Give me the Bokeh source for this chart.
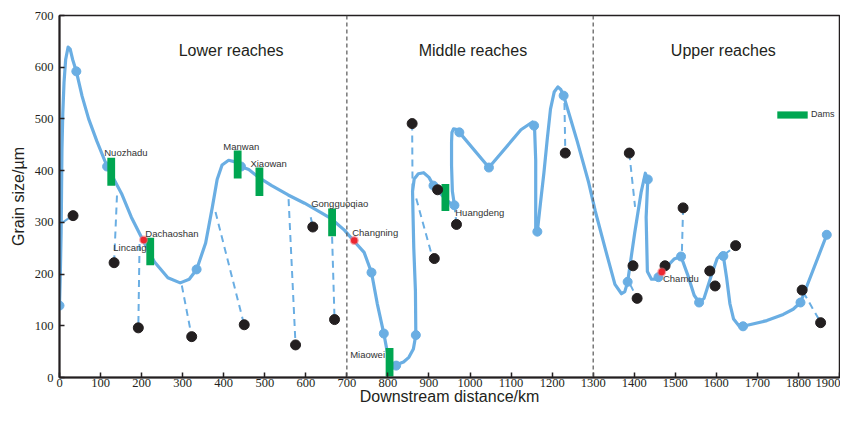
from bokeh.plotting import figure
from bokeh.models import Range1d, Span, Legend, LegendItem, ColumnDataSource, FixedTicker
from bokeh.embed import file_html
from bokeh.resources import INLINE
from bokeh.core.properties import value

# ---------------- data ----------------
x_ticks = list(range(0, 2000, 100))
y_ticks = list(range(0, 800, 100))

# traced grain-size curve (km, um)
curve_x = [0, 2, 4, 5, 6, 8, 11, 15, 21, 26, 32, 41, 55, 71, 91, 116, 151, 175, 203, 231,
           264, 294, 316, 334, 356, 372, 384, 396, 412, 428, 442, 461, 485, 517, 557, 597,
           637, 662, 694, 716, 742, 760, 774, 790, 798, 805, 814, 822, 838, 851, 862, 868,
           867, 863, 861, 860, 864, 874, 887, 900, 911, 927, 940, 955, 962, 957, 955, 955,
           956, 960, 966, 974, 1046, 1124, 1152, 1157, 1160, 1160, 1160, 1161, 1164, 1172,
           1180, 1188, 1196, 1205, 1214, 1221, 1228, 1245, 1261, 1289, 1305, 1329, 1353,
           1369, 1377, 1384, 1401, 1417, 1427, 1433, 1429, 1432, 1442, 1456, 1459, 1467,
           1497, 1514, 1530, 1546, 1558, 1570, 1586, 1602, 1612, 1617, 1625, 1633, 1642,
           1655, 1665, 1723, 1763, 1787, 1805, 1869]
curve_y = [139, 200, 280, 360, 440, 510, 570, 615, 639, 635, 615, 592, 544, 500, 457, 408, 356, 310, 266, 224,
           193, 183, 190, 209, 260, 328, 383, 411, 420, 417, 408, 402, 387, 371, 353, 337,
           319, 307, 285, 265, 242, 203, 143, 85, 51, 30, 21, 25, 30, 39, 55, 82,
           168, 250, 320, 360, 384, 394, 396, 387, 371, 357, 345, 335, 333, 360, 410, 455,
           474, 481, 480, 474, 406, 479, 494, 487, 420, 340, 290, 278, 282, 340,
           396, 460, 519, 552, 562, 557, 545, 500, 457, 377, 322, 250, 180,
           162, 166, 185, 279, 359, 395, 383, 310, 205, 190, 190, 194, 204,
           229, 234, 199, 159, 145, 153, 193, 230, 239, 235, 193, 143, 113,
           100, 99, 110, 122, 132, 145, 276]

# sampled (pre-dam) grain sizes on the curve
blue_x = [0, 41, 116, 334, 442, 760, 790, 820, 868, 911, 962, 974, 1046, 1156, 1164, 1228,
          1384, 1433, 1459, 1514, 1558, 1617, 1665, 1805, 1869]
blue_y = [139, 592, 408, 209, 408, 203, 85, 23, 82, 371, 333, 474, 406, 487, 282, 545,
          185, 383, 194, 234, 145, 235, 99, 145, 276]

# present-day grain sizes
black_x = [33, 133, 192, 322, 450, 575, 617, 670, 859, 913, 921, 967, 1232,
           1388, 1397, 1407, 1475, 1519, 1584, 1597, 1647, 1809, 1854]
black_y = [313, 222, 96, 79, 102, 63, 291, 112, 491, 230, 363, 296, 434,
           434, 216, 153, 216, 328, 206, 177, 255, 169, 106]

# hydrological stations
station_x = [205, 718, 1467]
station_y = [266, 265, 204]

# links between the two samplings
link_x0 = [8, 140, 195, 298, 380, 558, 612, 664, 859, 869, 962, 1230, 1388, 1390, 1519, 1620, 1812]
link_y0 = [300, 352, 258, 178, 320, 345, 310, 272, 491, 346, 333, 531, 434, 180, 328, 238, 165]
link_x1 = [30, 133, 192, 322, 450, 575, 617, 670, 860, 907, 967, 1232, 1402, 1407, 1516, 1645, 1850]
link_y1 = [312, 222, 96, 79, 101, 63, 291, 112, 362, 236, 296, 440, 330, 153, 240, 253, 112]

# dams
dam_names = ["Nuozhadu", "Dachaoshan", "Manwan", "Xiaowan", "Gongguoqiao", "Miaowei", "Huangdeng"]
dam_x = [126, 221, 434, 487, 664, 804, 940]
dam_lo = [371, 217, 385, 351, 273, 2, 322]
dam_hi = [425, 270, 439, 406, 327, 57, 374]

# place labels
label_text = ["Nuozhadu", "Manwan", "Xiaowan", "Dachaoshan", "Lincang", "Gongguoqiao",
              "Changning", "Miaowei", "Huangdeng", "Chamdu"]
label_x = [109, 399, 465, 209, 131, 613, 713, 708, 964, 1470]
label_y = [435, 447, 414, 279, 252, 337, 280, 45, 320, 191]

reach_names = ["Lower reaches", "Middle reaches", "Upper reaches"]
reach_x = [418, 1007, 1617]
reach_y = [632, 632, 632]
reach_bounds = [700, 1300]

# ---------------- figure ----------------
BLUE = "#6aaee3"
DARK = "#231f20"
GREEN = "#00a651"
RED = "#ec2730"

p = figure(width=840, height=407, x_range=Range1d(0, 1900), y_range=Range1d(0, 700),
           output_backend="svg", toolbar_location=None,
           min_border_left=59, min_border_right=1, min_border_top=15, min_border_bottom=20)
p.background_fill_color = "white"
p.border_fill_color = "white"
p.outline_line_color = DARK
p.outline_line_width = 1.5
p.grid.visible = False

p.xaxis.ticker = FixedTicker(ticks=x_ticks)
p.yaxis.ticker = FixedTicker(ticks=y_ticks)
for ax in (p.xaxis[0], p.yaxis[0]):
    ax.axis_line_color = DARK
    ax.axis_line_width = 2
    ax.major_tick_in = 5
    ax.major_tick_out = 0
    ax.major_tick_line_color = DARK
    ax.major_tick_line_width = 1.5
    ax.minor_tick_line_color = None
    ax.major_label_text_font = "Liberation Serif"
    ax.major_label_text_font_size = "12.5px"
    ax.major_label_text_color = DARK
    ax.axis_label_text_font = "Liberation Sans"
    ax.axis_label_text_font_style = "normal"
    ax.axis_label_text_font_size = "16px"
    ax.axis_label_text_color = DARK
p.xaxis.axis_label = "Downstream distance/km"
p.yaxis.axis_label = "Grain size/\u00b5m"
p.xaxis.major_label_standoff = 1
p.xaxis.axis_label_standoff = -2
p.yaxis.major_label_standoff = 6
p.yaxis.axis_label_standoff = 5

for b in reach_bounds:
    p.add_layout(Span(location=b, dimension="height", line_color="#555555",
                      line_dash="4 3", line_width=1.2))

p.segment(x0=link_x0, y0=link_y0, x1=link_x1, y1=link_y1, line_color=BLUE,
          line_width=2, line_dash="7 5")
p.line(curve_x, curve_y, line_color=BLUE, line_width=3.2, line_join="round")
p.scatter(blue_x, blue_y, size=9, fill_color=BLUE, line_color=BLUE)

dam_src = ColumnDataSource(dict(x=dam_x, lo=dam_lo, hi=dam_hi, name=dam_names))
dams = p.vbar(x="x", width=19, bottom="lo", top="hi", source=dam_src,
              fill_color=GREEN, line_color=None)

p.scatter(black_x, black_y, size=10, fill_color=DARK, line_color=DARK)
p.scatter(station_x, station_y, size=9, fill_color="#f26d73", line_color=None, alpha=0.6)
p.scatter(station_x, station_y, size=6.5, fill_color=RED, line_color=None)

p.text(x=label_x, y=label_y, text=label_text, text_font=value("Liberation Sans"),
       text_font_size="9.5px", text_color="#333333", text_align="left",
       text_baseline="middle")
p.text(x=reach_x, y=reach_y, text=reach_names, text_font=value("Liberation Sans"),
       text_font_size="16px", text_color=DARK, text_align="center",
       text_baseline="middle")

legend = Legend(items=[LegendItem(label="Dams", renderers=[dams])],
                location=(714, 258), glyph_width=38, glyph_height=9, label_height=8,
                label_text_font="Liberation Sans", label_text_font_size="9px",
                label_text_color="#333333", padding=0, margin=0, spacing=0,
                label_standoff=0, border_line_color=None, background_fill_alpha=0)
p.add_layout(legend)

open("out.html", "w").write(file_html(p, INLINE))
